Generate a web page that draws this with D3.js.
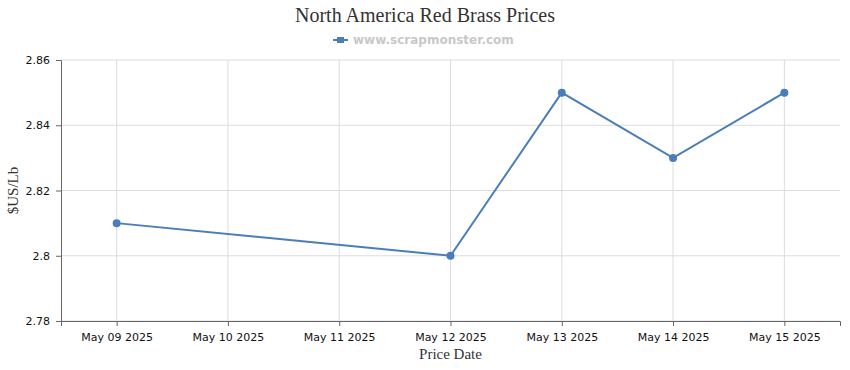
<!DOCTYPE html>
<html>
<head>
<meta charset="utf-8">
<script src="https://cdn.jsdelivr.net/npm/d3@7"></script>
<style>
  body { margin: 0; background: #fff; }
  .grid line { stroke: #dcdcdc; }
  .axis path, .axis line { stroke: #666; }
  .axis text { font-family: "DejaVu Sans", sans-serif; font-size: 11px; fill: #111; }
</style>
</head>
<body>
<div id="chart"></div>
<script>
// chart data
const dates = ["May 09 2025", "May 10 2025", "May 11 2025", "May 12 2025", "May 13 2025", "May 14 2025", "May 15 2025"];
const priceDates = ["May 09 2025", "May 12 2025", "May 13 2025", "May 14 2025", "May 15 2025"];
const prices = [2.81, 2.80, 2.85, 2.83, 2.85];
const yTicks = [2.78, 2.80, 2.82, 2.84, 2.86];

const width = 850, height = 370;
const margin = { top: 60, right: 10, bottom: 49, left: 61 };
const color = "#4a7ebb";

const svg = d3.select("#chart")
    .append("svg")
    .attr("width", width)
    .attr("height", height);

const x = d3.scalePoint()
    .domain(dates)
    .range([margin.left, width - margin.right])
    .padding(0.5);

const y = d3.scaleLinear()
    .domain([2.78, 2.86])
    .range([height - margin.bottom, margin.top]);

// gridlines
svg.append("g")
    .attr("class", "grid")
    .selectAll("line.h")
    .data(yTicks)
    .join("line")
    .attr("x1", margin.left)
    .attr("x2", width - margin.right)
    .attr("y1", d => y(d))
    .attr("y2", d => y(d));

svg.append("g")
    .attr("class", "grid")
    .selectAll("line.v")
    .data(dates)
    .join("line")
    .attr("x1", d => x(d))
    .attr("x2", d => x(d))
    .attr("y1", margin.top)
    .attr("y2", height - margin.bottom);

// axes
svg.append("g")
    .attr("class", "axis")
    .attr("transform", `translate(0,${height - margin.bottom})`)
    .call(d3.axisBottom(x).tickSizeOuter(0).tickSize(5).tickPadding(7));

svg.append("g")
    .attr("class", "axis")
    .attr("transform", `translate(${margin.left},0)`)
    .call(d3.axisLeft(y).tickValues(yTicks).tickFormat(d => +d.toFixed(2)).tickSizeOuter(0).tickSize(5).tickPadding(6));

// line + points
const pts = priceDates.map((d, i) => ({ date: d, price: prices[i] }));

const line = d3.line()
    .x(d => x(d.date))
    .y(d => y(d.price));

svg.append("path")
    .datum(pts)
    .attr("fill", "none")
    .attr("stroke", color)
    .attr("stroke-width", 2)
    .attr("d", line);

svg.selectAll("circle.pt")
    .data(pts)
    .join("circle")
    .attr("class", "pt")
    .attr("cx", d => x(d.date))
    .attr("cy", d => y(d.price))
    .attr("r", 4)
    .attr("fill", color);

// title
svg.append("text")
    .attr("x", width / 2)
    .attr("y", 22)
    .attr("text-anchor", "middle")
    .style("font-family", "'Liberation Serif', serif")
    .style("font-size", "20px")
    .style("fill", "#333")
    .text("North America Red Brass Prices");

// legend
const leg = svg.append("g").attr("transform", "translate(333,40)");
leg.append("line")
    .attr("x1", 0).attr("x2", 15)
    .attr("stroke", color).attr("stroke-width", 2);
leg.append("rect")
    .attr("x", 4).attr("y", -3).attr("width", 7).attr("height", 6)
    .attr("fill", color);
leg.append("text")
    .attr("x", 20)
    .attr("y", 4)
    .style("font-family", "'DejaVu Sans', sans-serif")
    .style("font-size", "12px")
    .style("font-weight", "bold")
    .style("fill", "#c8c8c8")
    .text("www.scrapmonster.com");

// axis titles
svg.append("text")
    .attr("x", (margin.left + width - margin.right) / 2)
    .attr("y", 359)
    .attr("text-anchor", "middle")
    .style("font-family", "'Liberation Serif', serif")
    .style("font-size", "15px")
    .style("fill", "#333")
    .text("Price Date");

svg.append("text")
    .attr("transform", `translate(18,${(margin.top + height - margin.bottom) / 2}) rotate(-90)`)
    .attr("text-anchor", "middle")
    .style("font-family", "'Liberation Serif', serif")
    .style("font-size", "15px")
    .style("fill", "#333")
    .text("$US/Lb");
</script>
</body>
</html>
